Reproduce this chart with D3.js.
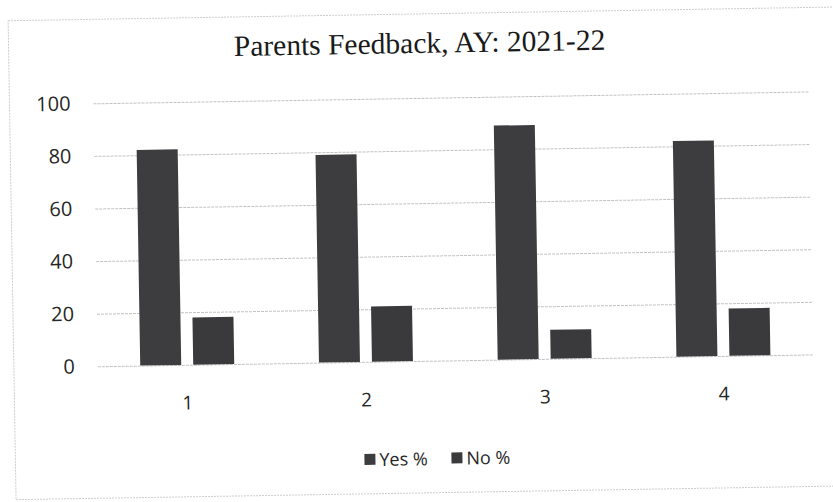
<!DOCTYPE html>
<html>
<head>
<meta charset="utf-8">
<script src="https://cdn.jsdelivr.net/npm/d3@7/dist/d3.min.js"></script>
<style>
  html, body { margin: 0; padding: 0; background: #ffffff; }
  svg { display: block; }
</style>
</head>
<body>
<svg id="chart" width="833" height="502"></svg>
<script>
// Survey questions (categories) and the share of parents answering each way
const categories = ["1", "2", "3", "4"];
const seriesNames = ["Yes %", "No %"];
const yesValues = [82, 79, 89, 82];
const noValues = [18, 21, 11, 18];
const yTicks = [0, 20, 40, 60, 80, 100];
const titleText = "Parents Feedback, AY: 2021-22";

const seriesColors = { "Yes %": "#3d3c3f", "No %": "#3a393b" };

const rows = categories.map((c, i) => ({ cat: c, "Yes %": yesValues[i], "No %": noValues[i] }));

const svg = d3.select("#chart");

// The whole sheet sits slightly askew on the page
const g = svg.append("g").attr("transform", "rotate(-0.95, 416, 251)");

// Chart frame
g.append("rect")
  .attr("x", 12).attr("y", 14)
  .attr("width", 840).attr("height", 479)
  .attr("fill", "#ffffff")
  .attr("stroke", "#cdcdcd")
  .attr("stroke-width", 1)
  .attr("stroke-dasharray", "2,1");

const plot = { left: 96, right: 811, top: 98, bottom: 361 };

const x0 = d3.scaleBand().domain(categories).range([plot.left, plot.right]).padding(0);
const bw = x0.bandwidth();
const x1 = d3.scaleBand().domain(seriesNames)
  .range([bw / 2 - 47, bw / 2 + 47])
  .paddingInner(12 / 53).paddingOuter(0);
const y = d3.scaleLinear().domain([0, 100]).range([plot.bottom, plot.top]);

// Horizontal gridlines and value labels
const yAxis = d3.axisLeft(y).tickValues(yTicks).tickSize(-(plot.right - plot.left)).tickPadding(23);
const ya = g.append("g").attr("transform", `translate(${plot.left},0)`).call(yAxis);
ya.select(".domain").remove();
ya.selectAll(".tick line")
  .attr("stroke", "#c2c2c2")
  .attr("stroke-width", 1)
  .attr("stroke-dasharray", "3,1");
ya.selectAll(".tick text")
  .attr("fill", "#262626")
  .style("font-family", "'Open Sans', sans-serif")
  .style("font-size", "20px");

// Category labels under each group
const xAxis = d3.axisBottom(x0).tickSize(0).tickPadding(31);
const xa = g.append("g").attr("transform", `translate(0,${plot.bottom})`).call(xAxis);
xa.select(".domain").remove();
xa.selectAll(".tick text")
  .attr("fill", "#262626")
  .style("font-family", "'Open Sans', sans-serif")
  .style("font-size", "19px");

// Grouped bars
const groups = g.append("g").selectAll("g")
  .data(rows).join("g")
  .attr("transform", d => `translate(${x0(d.cat)},0)`);

groups.selectAll("rect")
  .data(d => seriesNames.map(s => ({ s, v: d[s] })))
  .join("rect")
  .attr("x", d => x1(d.s))
  .attr("y", d => y(d.v))
  .attr("width", x1.bandwidth())
  .attr("height", d => y(0) - y(d.v))
  .attr("fill", d => seriesColors[d.s]);

// Title
g.append("text")
  .attr("x", 423).attr("y", 53)
  .attr("text-anchor", "middle")
  .attr("fill", "#1a1a1a")
  .style("font-family", "'Liberation Serif', 'Times New Roman', serif")
  .style("font-size", "29.5px")
  .text(titleText);

// Legend
const legend = g.append("g").attr("transform", "translate(361,459)");
const legendX = [0, 87];
seriesNames.forEach((s, i) => {
  const item = legend.append("g").attr("transform", `translate(${legendX[i]},0)`);
  item.append("rect")
    .attr("x", 0).attr("y", -6)
    .attr("width", 11).attr("height", 11)
    .attr("fill", seriesColors[s]);
  item.append("text")
    .attr("x", 15).attr("y", 0)
    .attr("dy", "0.35em")
    .attr("fill", "#262626")
    .style("font-family", "'Open Sans', sans-serif")
    .style("font-size", "18px")
    .text(s);
});
</script>
</body>
</html>
